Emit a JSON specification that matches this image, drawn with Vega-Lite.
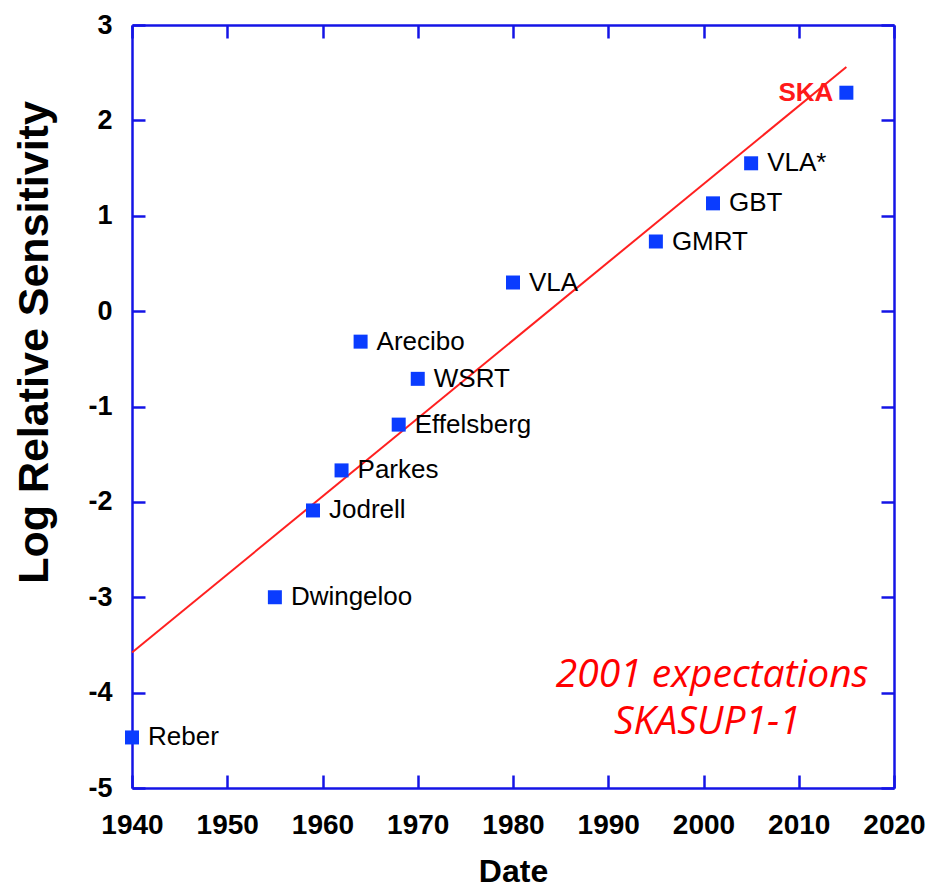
{
  "$schema": "https://vega.github.io/schema/vega-lite/v6.json",
  "autosize": "none",
  "width": 762,
  "height": 763,
  "padding": {"left": 132, "top": 25, "right": 48, "bottom": 100},
  "background": "white",
  "config": {
    "view": {"stroke": null},
    "font": "Liberation Sans",
    "axis": {
      "grid": false,
      "domainColor": "#1414e6",
      "domainWidth": 2.5,
      "tickColor": "#1414e6",
      "tickWidth": 2.5,
      "tickSize": -13,
      "labelFlush": false,
      "labelOverlap": false,
      "labelFont": "Liberation Sans",
      "labelFontWeight": "bold",
      "labelColor": "black",
      "titleFont": "Liberation Sans",
      "titleFontWeight": "bold",
      "titleColor": "black"
    }
  },
  "datasets": {
    "telescopes": [
      {"name": "Reber", "year": 1940, "sens": -4.47},
      {"name": "Dwingeloo", "year": 1955, "sens": -3.0},
      {"name": "Jodrell", "year": 1959, "sens": -2.09},
      {"name": "Parkes", "year": 1962, "sens": -1.67},
      {"name": "Arecibo", "year": 1964, "sens": -0.32},
      {"name": "Effelsberg", "year": 1968, "sens": -1.19},
      {"name": "WSRT", "year": 1970, "sens": -0.71},
      {"name": "VLA", "year": 1980, "sens": 0.3},
      {"name": "GMRT", "year": 1995, "sens": 0.73},
      {"name": "GBT", "year": 2001, "sens": 1.13},
      {"name": "VLA*", "year": 2005, "sens": 1.55},
      {"name": "SKA", "year": 2015, "sens": 2.29}
    ],
    "trend": [
      {"year": 1940, "sens": -3.58},
      {"year": 2015, "sens": 2.56}
    ]
  },
  "resolve": {"axis": {"x": "independent", "y": "independent"}},
  "layer": [
    {
      "data": {"name": "trend"},
      "mark": {"type": "line", "color": "#ff2020", "strokeWidth": 2},
      "encoding": {
        "x": {"field": "year", "type": "quantitative",
              "scale": {"domain": [1940, 2020], "nice": false, "zero": false},
              "axis": {"orient": "top", "labels": false, "title": null, "values": [1940, 1950, 1960, 1970, 1980, 1990, 2000, 2010, 2020]}},
        "y": {"field": "sens", "type": "quantitative",
              "scale": {"domain": [-5, 3], "nice": false, "zero": false},
              "axis": {"orient": "right", "labels": false, "title": null, "values": [-5, -4, -3, -2, -1, 0, 1, 2, 3]}}
      }
    },
    {
      "data": {"name": "telescopes"},
      "mark": {"type": "point", "shape": "square", "filled": true, "size": 196, "color": "#0a3cff", "opacity": 1},
      "encoding": {
        "x": {"field": "year", "type": "quantitative",
              "axis": {"orient": "bottom", "title": "Date", "titleFontSize": 32, "labelFontSize": 28,
                       "labelBaseline": "alphabetic", "labelPadding": 58,
                       "titleY": 93, "titleBaseline": "alphabetic",
                       "values": [1940, 1950, 1960, 1970, 1980, 1990, 2000, 2010, 2020], "format": "d"}},
        "y": {"field": "sens", "type": "quantitative",
              "axis": {"orient": "left", "title": "Log Relative Sensitivity", "titleFontSize": 43, "labelFontSize": 27,
                       "labelPadding": 33, "titleX": -85, "titleY": 317, "titleBaseline": "alphabetic",
                       "labelExpr": "datum.value < 0 ? '-' + abs(datum.value) : '' + datum.value",
                       "values": [-5, -4, -3, -2, -1, 0, 1, 2, 3]}}
      }
    },
    {
      "data": {"name": "telescopes"},
      "transform": [{"filter": "datum.name !== 'SKA'"}],
      "mark": {"type": "text", "align": "left", "baseline": "middle", "dx": 16, "fontSize": 26, "color": "black", "font": "Liberation Sans"},
      "encoding": {
        "x": {"field": "year", "type": "quantitative", "axis": null},
        "y": {"field": "sens", "type": "quantitative", "axis": null},
        "text": {"field": "name"}
      }
    },
    {
      "data": {"name": "telescopes"},
      "transform": [{"filter": "datum.name === 'SKA'"}],
      "mark": {"type": "text", "align": "right", "baseline": "middle", "dx": -13, "fontSize": 26, "fontWeight": "bold", "color": "#ff1a1a", "font": "Liberation Sans"},
      "encoding": {
        "x": {"field": "year", "type": "quantitative", "axis": null},
        "y": {"field": "sens", "type": "quantitative", "axis": null},
        "text": {"field": "name"}
      }
    },
    {
      "data": {"values": [{}]},
      "mark": {"type": "text", "align": "center", "baseline": "middle", "fontSize": 39, "fontStyle": "italic", "color": "#ff0000", "font": "Open Sans"},
      "encoding": {
        "x": {"datum": 2000.9, "type": "quantitative", "axis": null},
        "y": {"datum": -3.82, "type": "quantitative", "axis": null},
        "text": {"value": "2001 expectations"}
      }
    },
    {
      "data": {"values": [{}]},
      "mark": {"type": "text", "align": "center", "baseline": "middle", "fontSize": 39, "fontStyle": "italic", "color": "#ff0000", "font": "Open Sans"},
      "encoding": {
        "x": {"datum": 2000.4, "type": "quantitative", "axis": null},
        "y": {"datum": -4.31, "type": "quantitative", "axis": null},
        "text": {"value": "SKASUP1-1"}
      }
    }
  ]
}
